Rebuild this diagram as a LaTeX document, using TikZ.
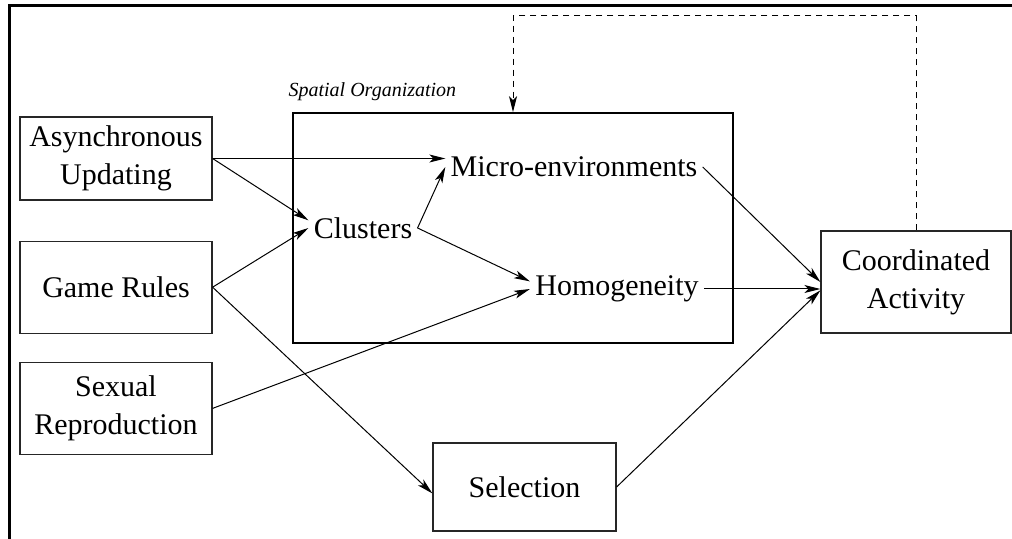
\documentclass[tikz,border=0pt]{standalone}
\usepackage{fontspec}
\setmainfont{Liberation Serif}
\usetikzlibrary{positioning,arrows.meta}

\begin{document}
\begin{tikzpicture}[
				x=0.5pt, y=-0.5pt,
				box/.style={rectangle, draw=black!85, line width=0.6pt, align=center, font=\fontsize{15}{19}\selectfont},
				term/.style={rectangle, inner sep=2.5pt, font=\fontsize{15}{19}\selectfont},
				region/.style={rectangle, draw=black, line width=0.8pt, minimum width=220pt, minimum height=115pt},
				regionlabel/.style={rectangle, inner sep=0pt, font=\fontsize{10}{12}\selectfont\itshape},
				link/.style={line width=0.5pt, -{Stealth[length=8pt, width=4pt, inset=2pt]}},
				feedback/.style={link, dash pattern=on 3pt off 2.5pt}
			]
			\useasboundingbox (0,0) rectangle (1012,539);
			\draw[line width=1.5pt] (9.5,539) -- (9.5,5.5) -- (1012,5.5);
			\node[region] (spatial) at (513,228) {};
			\node[regionlabel] (spatiallabel) [above right=5.5pt and -2pt of spatial.north west] {Spatial Organization};
			\node[box, minimum width=96pt, minimum height=41.5pt] (async) at (116,158.5) {Asynchronous\\Updating};
			\node[box, minimum width=96pt, minimum height=46pt] (rules) [below=20pt of async] {Game Rules};
			\node[box, minimum width=96pt, minimum height=46pt] (sexual) [below=14pt of rules] {Sexual\\Reproduction};
			\node[term] (micro) at (574,167) {Micro-environments};
			\node[term] (clusters) at (363,228) {Clusters};
			\node[term] (homog) at (617,289) {Homogeneity};
			\node[box, minimum width=95pt, minimum height=51pt] (coord) at (916,282) {Coordinated\\Activity};
			\node[box, minimum width=91.5pt, minimum height=44pt] (selection) at (524.5,487) {Selection};
			\coordinate (looptop) at (916,16);
			\begin{scope}[link]
			\draw (async.east) -- (async.east -| micro.west);
			\draw (async.east) -- (clusters.172);
			\draw (rules.east) -- (clusters.west);
			\draw (rules.east) -- (selection.184);
			\draw (sexual.east) -- (homog.west);
			\draw (clusters.east) -- (micro.west);
			\draw (clusters.east) -- (homog.175);
			\draw (micro.east) -- (coord.west);
			\draw (homog.east) -- (homog.east -| coord.west);
			\draw (selection.east) -- (coord.185);
			\end{scope}
			\draw[feedback] (coord.north) -- (coord.north |- looptop) -| (spatial.north);
			\end{tikzpicture}
\end{document}
